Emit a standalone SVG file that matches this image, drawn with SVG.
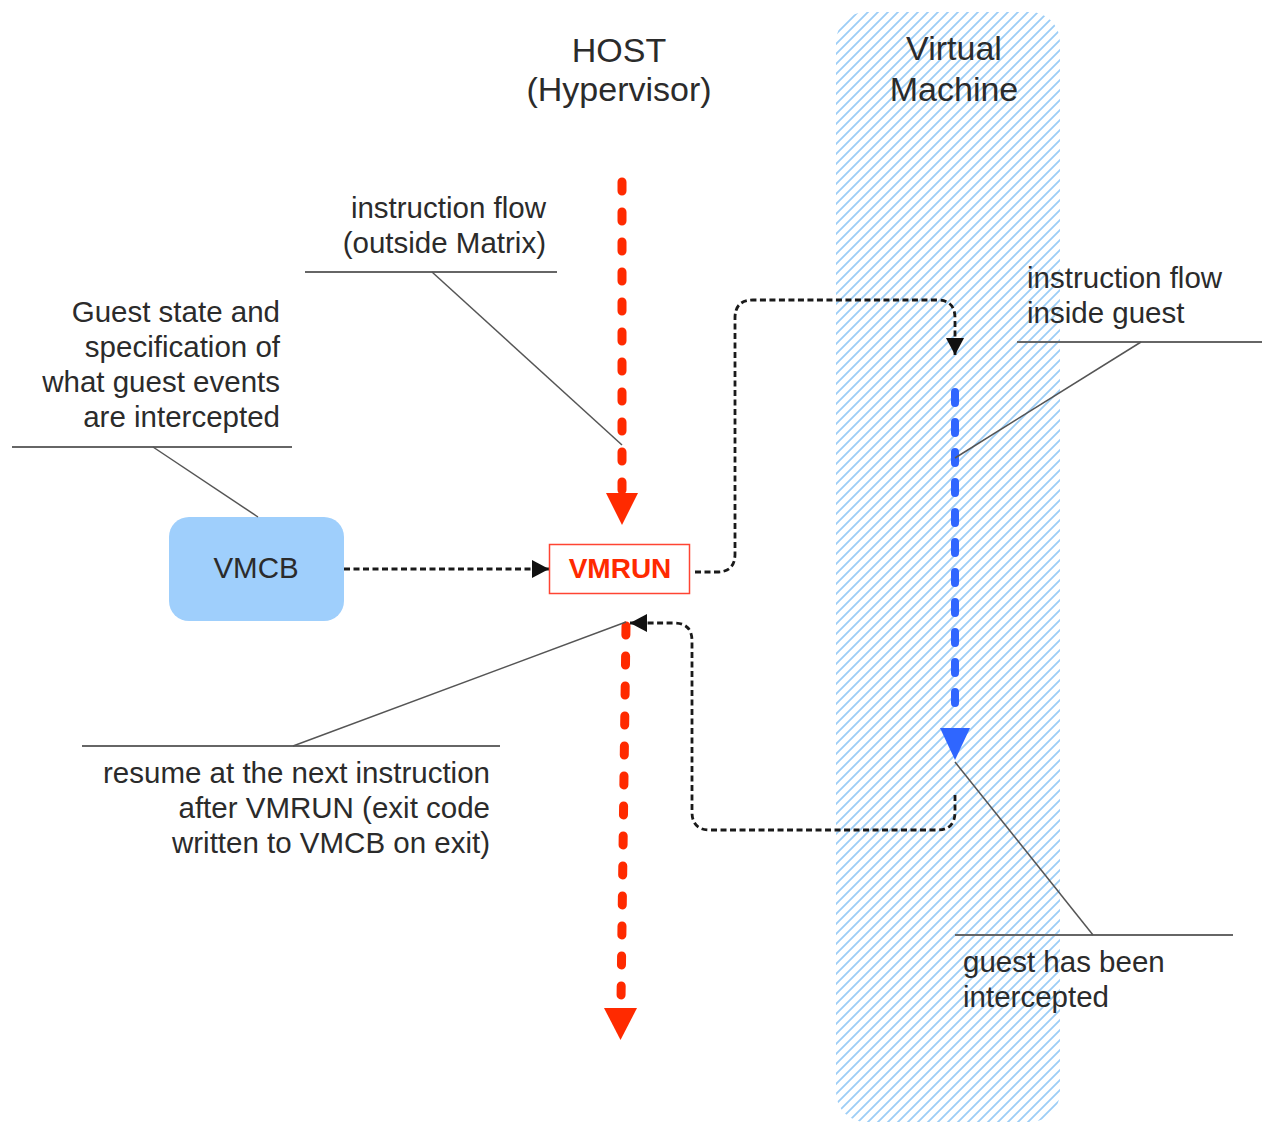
<svg xmlns="http://www.w3.org/2000/svg" width="1262" height="1123" viewBox="0 0 1262 1123">
  <style>
    .lbl { font-family: "Liberation Sans", Arial, sans-serif; font-size: 29.5px; fill: #2b2b2b; }
    .head { font-family: "Liberation Sans", Arial, sans-serif; font-size: 34px; fill: #2b2b2b; }
    .end { text-anchor: end; }
    .mid { text-anchor: middle; }
    .rule { stroke: #666; stroke-width: 2; fill: none; }
    .leader { stroke: #555; stroke-width: 1.5; fill: none; }
    .flow-red { stroke: #ff2a00; stroke-width: 9; stroke-linecap: round; stroke-dasharray: 9 21; fill: none; }
    .flow-blue { stroke: #2f66ff; stroke-width: 8; stroke-linecap: round; stroke-dasharray: 11 19; fill: none; }
    .ctl { stroke: #1a1a1a; stroke-width: 2.8; stroke-dasharray: 6 3.5; fill: none; }
  </style>
  <defs>
    <pattern id="hatch" patternUnits="userSpaceOnUse" width="10" height="10">
      <path d="M-2,2 L2,-2 M0,10 L10,0 M8,12 L12,8" stroke="#9ccdf6" stroke-width="1.8"/>
    </pattern>
    <marker id="arrow" markerUnits="userSpaceOnUse" markerWidth="20" markerHeight="20" refX="17" refY="9" orient="auto">
      <path d="M0,0 L17,9 L0,18 Z" fill="#111"/>
    </marker>
  </defs>

  <!-- guest (virtual machine) band -->
  <g id="vm-band">
    <rect x="836" y="12" width="224" height="1110" rx="30" fill="url(#hatch)"/>
  </g>

  <!-- column headings -->
  <g id="host-title">
    <text class="head mid" x="619" y="62">HOST</text>
    <text class="head mid" x="619" y="101">(Hypervisor)</text>
  </g>
  <g id="vm-title">
    <text class="head mid" x="954" y="60">Virtual</text>
    <text class="head mid" x="954" y="101">Machine</text>
  </g>

  <!-- connectors -->
  <g id="connectors">
    <!-- host instruction flow -->
    <line class="flow-red" x1="622" y1="182" x2="622" y2="490"/>
    <path d="M606,493 L638,493 L622,525 Z" fill="#ff2a00"/>
    <line class="flow-red" x1="626" y1="626" x2="621" y2="1000"/>
    <path d="M604,1008 L637,1008 L620.5,1040 Z" fill="#ff2a00"/>
    <!-- guest instruction flow -->
    <line class="flow-blue" x1="955" y1="392" x2="955" y2="722"/>
    <path d="M940,728 L970,728 L955,760 Z" fill="#2f66ff"/>
    <!-- VMCB to VMRUN -->
    <line class="ctl" x1="344" y1="569" x2="549" y2="569" marker-end="url(#arrow)"/>
    <!-- VMRUN enters guest -->
    <path class="ctl" d="M695,572 H717 Q735,572 735,554 V318 Q735,300 753,300 H937 Q955,300 955,318 V355" marker-end="url(#arrow)"/>
    <!-- intercept returns to host -->
    <path class="ctl" d="M955,795 V812 Q955,830 937,830 H710 Q692,830 692,812 V641 Q692,623 674,623 H630" marker-end="url(#arrow)"/>
  </g>

  <!-- nodes -->
  <g id="vmcb">
    <rect x="169" y="517" width="175" height="104" rx="20" fill="#9fcffc"/>
    <text class="lbl mid" x="256" y="578">VMCB</text>
  </g>
  <g id="vmrun">
    <rect x="549.5" y="544.5" width="140" height="49" fill="#fff" stroke="#ff4433" stroke-width="1.5"/>
    <text x="620" y="578" text-anchor="middle" font-family="'Liberation Sans', Arial, sans-serif" font-size="28" font-weight="bold" fill="#ff2a00">VMRUN</text>
  </g>

  <!-- callouts -->
  <g id="note-vmcb">
    <text class="lbl end" x="280" y="322">Guest state and</text>
    <text class="lbl end" x="280" y="357">specification of</text>
    <text class="lbl end" x="280" y="392">what guest events</text>
    <text class="lbl end" x="280" y="427">are intercepted</text>
    <line class="rule" x1="12" y1="447" x2="292" y2="447"/>
    <line class="leader" x1="153" y1="447" x2="258" y2="517"/>
  </g>
  <g id="note-host-flow">
    <text class="lbl end" x="546" y="218">instruction flow</text>
    <text class="lbl end" x="546" y="253">(outside Matrix)</text>
    <line class="rule" x1="305" y1="272" x2="557" y2="272"/>
    <line class="leader" x1="432" y1="272" x2="622" y2="445"/>
  </g>
  <g id="note-guest-flow">
    <text class="lbl" x="1027" y="288">instruction flow</text>
    <text class="lbl" x="1027" y="323">inside guest</text>
    <line class="rule" x1="1017" y1="342" x2="1262" y2="342"/>
    <line class="leader" x1="1141" y1="342" x2="955" y2="458"/>
  </g>
  <g id="note-resume">
    <line class="rule" x1="82" y1="746" x2="500" y2="746"/>
    <line class="leader" x1="293" y1="746" x2="626" y2="622"/>
    <text class="lbl end" x="490" y="783">resume at the next instruction</text>
    <text class="lbl end" x="490" y="818">after VMRUN (exit code</text>
    <text class="lbl end" x="490" y="853">written to VMCB on exit)</text>
  </g>
  <g id="note-intercept">
    <line class="rule" x1="955" y1="935" x2="1233" y2="935"/>
    <line class="leader" x1="955" y1="762" x2="1093" y2="935"/>
    <text class="lbl" x="963" y="972">guest has been</text>
    <text class="lbl" x="963" y="1007">intercepted</text>
  </g>
</svg>
